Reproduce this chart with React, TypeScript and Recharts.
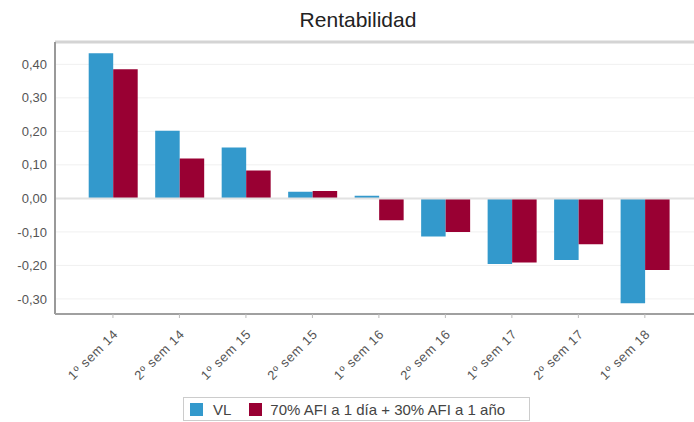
import React from "react";
import { BarChart, Bar, XAxis, YAxis, CartesianGrid, ReferenceLine } from "recharts";

const categories = ["1º sem 14", "2º sem 14", "1º sem 15", "2º sem 15", "1º sem 16", "2º sem 16", "1º sem 17", "2º sem 17", "1º sem 18"];
const vlValues = [0.433, 0.202, 0.152, 0.02, 0.008, -0.114, -0.196, -0.184, -0.313];
const benchValues = [0.385, 0.119, 0.083, 0.022, -0.065, -0.1, -0.191, -0.137, -0.214];
const yTicks = [-0.3, -0.2, -0.1, 0, 0.1, 0.2, 0.3, 0.4];
const seriesNames = ["VL", "70% AFI a 1 día + 30% AFI a 1 año"];
const title = "Rentabilidad";

const BLUE = "#3399cc";
const RED = "#990033";
const FONT = "'Liberation Sans', Arial, sans-serif";

const data = categories.map((c, i) => ({ name: c, vl: vlValues[i], bench: benchValues[i] }));

const fmt = (v: number) => (Math.abs(v) < 1e-9 ? "0,00" : v.toFixed(2).replace(".", ","));

const XTick = (props: any) => {
  const { x, y, payload } = props;
  return (
    <text
      transform={`translate(${x + 6},${y + 15}) rotate(-45)`}
      textAnchor="end"
      fontSize={13}
      letterSpacing={0.7}
      fill="#555"
      fontFamily={FONT}
    >
      {payload.value}
    </text>
  );
};

export default function App() {
  return (
    <div style={{ position: "relative", width: 694, height: 422, background: "#fff", fontFamily: FONT }}>
      <style>{`body{margin:0}`}</style>
      <div
        style={{
          position: "absolute",
          top: 7,
          left: 0,
          width: 716,
          textAlign: "center",
          fontSize: 21,
          color: "#222",
          lineHeight: "26px",
        }}
      >
        {title}
      </div>
      <BarChart
        width={694}
        height={422}
        data={data}
        margin={{ top: 42, right: 0, left: 0, bottom: 0 }}
        barGap={0}
        barSize={24.5}
      >
        <CartesianGrid vertical={false} stroke="#f0f0f0" />
        <YAxis
          width={55}
          domain={[-0.345, 0.4666]}
          ticks={yTicks}
          interval={0}
          tickFormatter={fmt}
          tickLine={false}
          tickSize={0}
          tickMargin={8}
          axisLine={{ stroke: "#999", strokeWidth: 2 }}
          tick={{ fontSize: 13, fill: "#555", fontFamily: FONT }}
          allowDataOverflow
        />
        <XAxis
          dataKey="name"
          height={108}
          interval={0}
          padding={{ left: 24.7, right: 15.9 }}
          tick={<XTick />}
          tickLine={{ stroke: "#bbb" }}
          tickSize={4}
          axisLine={{ stroke: "#a0a0a0", strokeWidth: 2 }}
        />
        <ReferenceLine y={0.4666} stroke="#d4d4d4" strokeWidth={3} />
        <ReferenceLine y={0} stroke="#e2e2e2" strokeWidth={2} />
        <Bar dataKey="vl" name={seriesNames[0]} fill={BLUE} isAnimationActive={false} />
        <Bar dataKey="bench" name={seriesNames[1]} fill={RED} isAnimationActive={false} />
      </BarChart>
      <div
        style={{
          position: "absolute",
          left: 183,
          top: 397,
          width: 347,
          height: 24,
          boxSizing: "border-box",
          border: "1px solid #ccc",
          display: "flex",
          alignItems: "center",
          fontSize: 15,
          color: "#444",
          paddingLeft: 6,
        }}
      >
        <span style={{ width: 13, height: 13, background: BLUE, display: "inline-block", marginRight: 10 }} />
        <span style={{ marginRight: 18 }}>{seriesNames[0]}</span>
        <span style={{ width: 13, height: 13, background: RED, display: "inline-block", marginRight: 8 }} />
        <span>{seriesNames[1]}</span>
      </div>
    </div>
  );
}
